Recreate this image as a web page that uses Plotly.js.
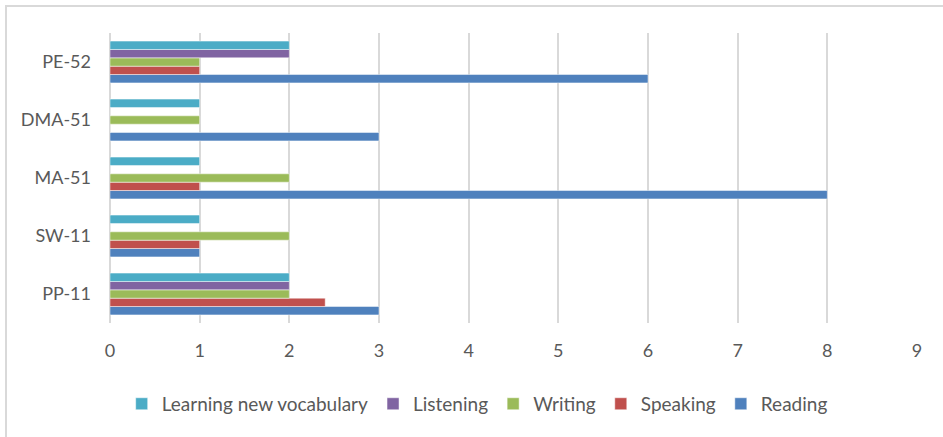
<!DOCTYPE html>
<html>
<head>
<meta charset="utf-8">
<script src="https://cdn.plot.ly/plotly-3.0.1.min.js"></script>
<style>
  html, body { margin: 0; padding: 0; background: #ffffff; overflow: hidden; }
  #wrap { position: relative; width: 943px; height: 437px; }
  #frame { position: absolute; left: 5px; top: 5px; width: 960px; height: 460px;
           border-left: 2px solid #d9d9d9; border-top: 2px solid #d9d9d9; }
  #chart { position: absolute; left: 0; top: 0; width: 943px; height: 437px; }
</style>
</head>
<body>
<div id="wrap">
  <div id="frame"></div>
  <div id="chart"></div>
</div>
<script>
// Courses, bottom to top
const courses = ['PP-11', 'SW-11', 'MA-51', 'DMA-51', 'PE-52'];

// Number of responses per skill for each course
const reading    = [3, 1, 8, 3, 6];
const speaking   = [2.4, 1, 1, 0, 1];
const writing    = [2, 2, 2, 1, 1];
const listening  = [2, 0, 0, 0, 2];
const vocabulary = [2, 1, 1, 1, 2];

const xTicks = [0, 1, 2, 3, 4, 5, 6, 7, 8, 9];

const series = [
  { name: 'Reading', values: reading, color: '#4F81BD' },
  { name: 'Speaking', values: speaking, color: '#C0504D' },
  { name: 'Writing', values: writing, color: '#9BBB59' },
  { name: 'Listening', values: listening, color: '#8064A2' },
  { name: 'Learning new vocabulary', values: vocabulary, color: '#4BACC6' }
];

const traces = series.map(s => ({
  type: 'bar',
  orientation: 'h',
  name: s.name,
  y: courses,
  x: s.values,
  marker: { color: s.color, line: { color: 'rgba(255,255,255,0.6)', width: 0.8 } },
  hoverinfo: 'x+name'
}));

const font = 'Lato, "Open Sans", sans-serif';

const layout = {
  width: 943,
  height: 437,
  margin: { l: 110, r: 26, t: 33, b: 114, pad: 0 },
  paper_bgcolor: 'rgba(0,0,0,0)',
  plot_bgcolor: 'rgba(0,0,0,0)',
  barmode: 'group',
  bargap: 0.28,
  bargroupgap: 0,
  font: { family: font, color: '#595959', size: 18 },
  xaxis: {
    range: [0, 9],
    tickvals: xTicks,
    ticktext: xTicks.map(String),
    showgrid: true,
    gridcolor: '#d9d9d9',
    gridwidth: 2,
    zeroline: true,
    zerolinecolor: '#d9d9d9',
    zerolinewidth: 2,
    showline: false,
    ticks: '',
    ticklabelstandoff: 15,
    tickfont: { family: font, size: 18, color: '#595959' },
    fixedrange: true
  },
  yaxis: {
    type: 'category',
    showgrid: false,
    zeroline: false,
    showline: false,
    ticks: '',
    ticklabelstandoff: 18,
    tickfont: { family: font, size: 18, color: '#595959' },
    fixedrange: true
  },
  legend: {
    orientation: 'h',
    traceorder: 'reversed',
    x: 0.455,
    xanchor: 'center',
    y: -0.279,
    yanchor: 'middle',
    font: { family: font, size: 19, color: '#595959' },
    bgcolor: 'rgba(0,0,0,0)'
  },
  showlegend: true
};

Plotly.newPlot('chart', traces, layout, { displayModeBar: false, staticPlot: true });
</script>
</body>
</html>
